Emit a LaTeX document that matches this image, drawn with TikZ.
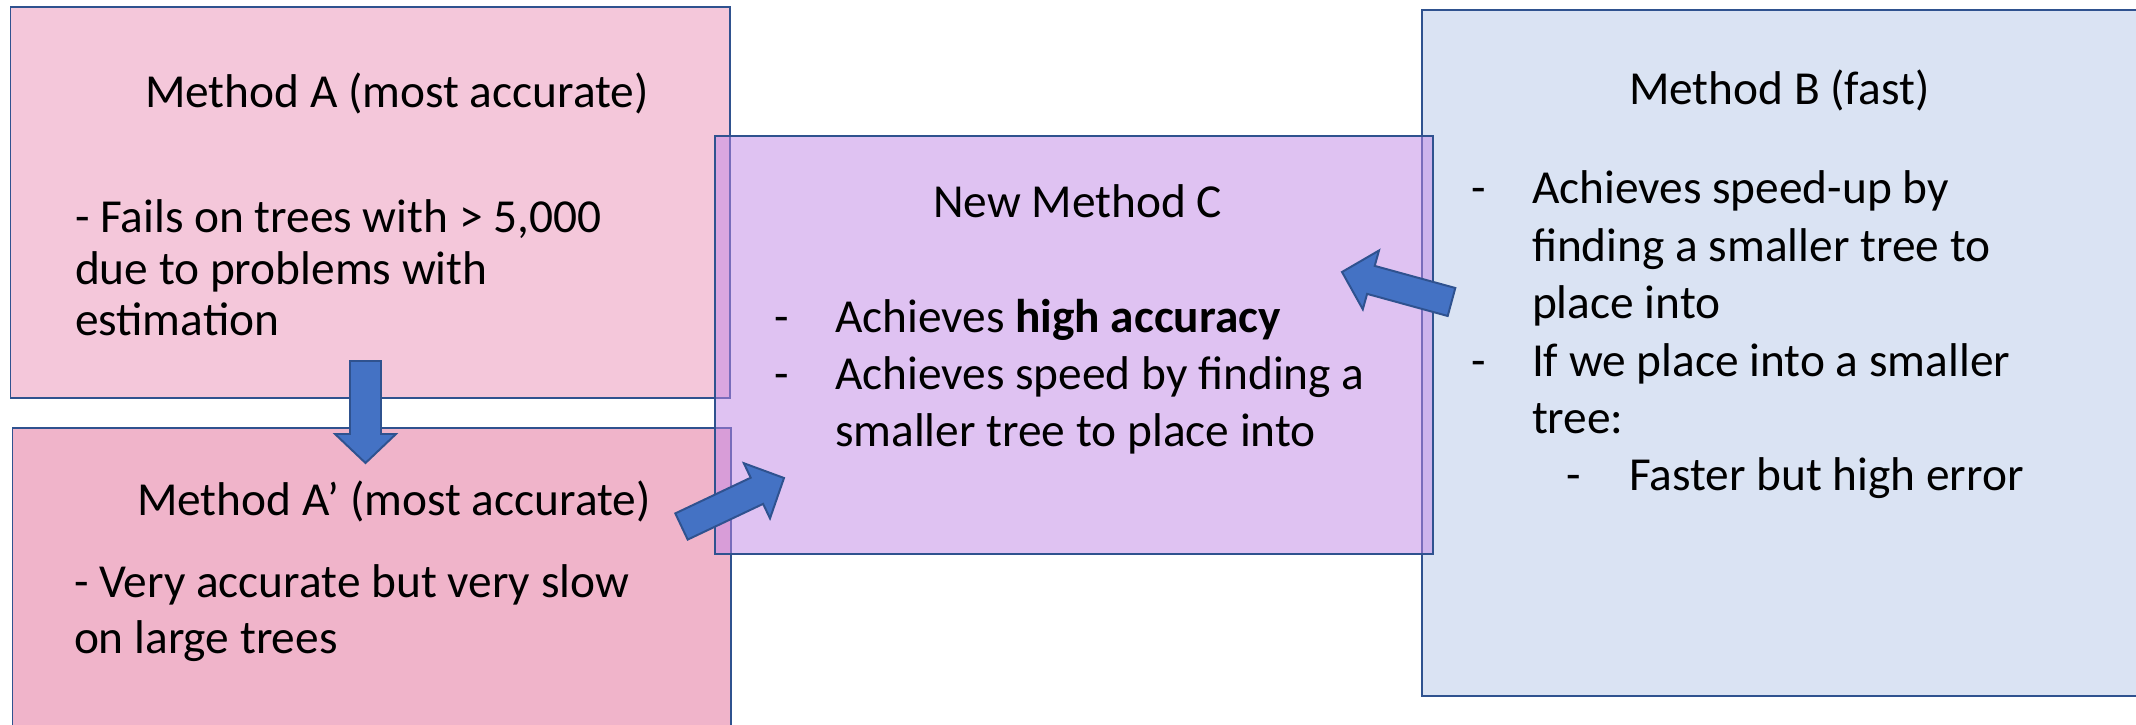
\documentclass[tikz,border=0pt]{standalone}
\usepackage{fontspec}
\setmainfont{Carlito}
\usetikzlibrary{fit}
\definecolor{bordercol}{HTML}{2F528F}
\definecolor{arrowcol}{HTML}{4472C4}
\definecolor{afill}{HTML}{F4C7DA}
\definecolor{apfill}{HTML}{F0B4CA}
\definecolor{bfill}{HTML}{DAE3F3}
\definecolor{cfill}{RGB}{193,135,231}
\begin{document}
\begin{tikzpicture}[x=0.38pt,y=-0.38pt,
  box/.style={draw=bordercol, line width=0.75pt, inner sep=0pt, outer sep=0pt},
  txt/.style={anchor=base west, inner sep=0pt, outer sep=0pt, font=\fontsize{18}{22}\selectfont},
  blockarrow/.style={draw=bordercol, fill=arrowcol, line width=0.75pt, line join=miter}]
\path[use as bounding box, fill=white] (0,0) rectangle (2136,725);
\clip (0,0) rectangle (2136,725);
% boxes
\node[box, fill=afill, fit={(10.5,7) (730,398)}] (A) {};
\node[box, fill=apfill, fit={(12.5,428) (731,780)}] (Ap) {};
\node[box, fill=bfill, fit={(1422,10) (2170,696)}] (B) {};
\node[box, fill=cfill, fill opacity=0.5, fit={(715,136) (1433,554)}] (C) {};
% block arrows
\draw[blockarrow] (350,361) -- (381,361) -- (381,434) -- (396,434) -- (365.5,463) -- (335,434) -- (350,434) -- cycle;
\draw[blockarrow] (675.3,513.4) -- (750.7,477.7) -- (743.8,463.2) -- (784,478) -- (770,518.4) -- (763.1,503.9) -- (687.7,539.6) -- cycle;
\draw[blockarrow] (1455.3,288) -- (1374.7,265.9) -- (1379,250.5) -- (1342,272) -- (1362.8,309.3) -- (1367.1,293.9) -- (1447.7,316) -- cycle;
% texts box A
\node[txt] (At) at (145,108) {Method A (most accurate)};
\node[txt] (A1) at (75,233) {- Fails on trees with > 5,000};
\node[txt] (A2) at (75,285) {due to problems with};
\node[txt] (A3) at (75,336) {estimation};
% texts box A'
\node[txt] (Apt) at (137,516) {Method A’ (most accurate)};
\node[txt] (Ap1) at (74,598) {- Very accurate but very slow};
\node[txt] (Ap2) at (74,654) {on large trees};
% texts box C
\node[txt] (Ct) at (933,218) {New Method C};
\node[txt] (Cd1) at (774,333) {-};
\node[txt] (C1) at (835,333) {Achieves \textbf{high accuracy}};
\node[txt] (Cd2) at (774,390) {-};
\node[txt] (C2) at (835,390) {Achieves speed by finding a};
\node[txt] (C3) at (835,447) {smaller tree to place into};
% texts box B
\node[txt] (Bt) at (1629,105) {Method B (fast)};
\node[txt] (Bd1) at (1471,204) {-};
\node[txt] (B1) at (1532,204) {Achieves speed-up by};
\node[txt] (B2) at (1532,261.4) {finding a smaller tree to};
\node[txt] (B3) at (1532,318.8) {place into};
\node[txt] (Bd2) at (1471,376.2) {-};
\node[txt] (B4) at (1532,376.2) {If we place into a smaller};
\node[txt] (B5) at (1532,433.6) {tree:};
\node[txt] (Bd3) at (1566,491) {-};
\node[txt] (B6) at (1629,491) {Faster but high error};
\end{tikzpicture}
\end{document}
